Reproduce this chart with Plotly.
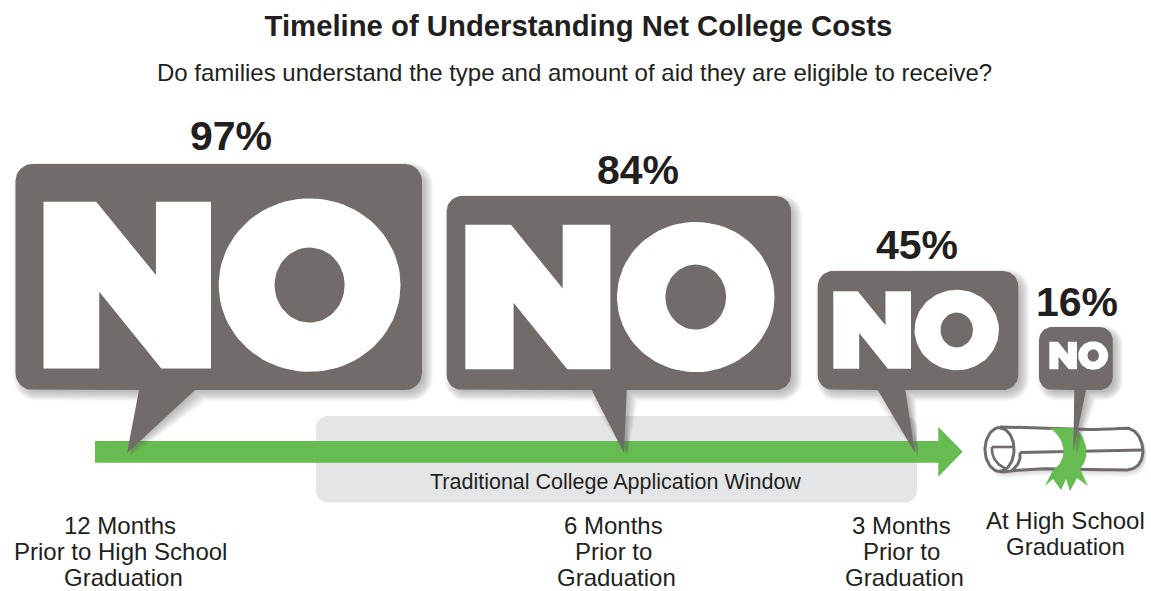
import numpy as np
import plotly.graph_objects as go

# Survey results: share of families answering "no" at each milestone
pct_no = [97, 84, 45, 16]
milestones = [
    ["12 Months", "Prior to High School", "Graduation"],
    ["6 Months", "Prior to", "Graduation"],
    ["3 Months", "Prior to", "Graduation"],
    ["At High School", "Graduation"],
]
TITLE = "Timeline of Understanding Net College Costs"
SUBTITLE = "Do families understand the type and amount of aid they are eligible to receive?"
WINDOW_LABEL = "Traditional College Application Window"

GREY = "#716b6a"
GREEN = "#66bc50"
PANEL = "#e4e5e7"
INK = "#231f20"
FONT = "Liberation Sans"

# Letter height of the "NO" grows with the percentage
GLYPH_SCALE = 1.72

# Frame of each speech bubble on the timeline
bubble_frames = [
    dict(left=15.5, right=422, top=164, bottom=390, r=17, base=(195, 139), tip=(127, 453),
         glyph_x=43.5, glyph_y=368.5, label_x=231, label_y=139.5),
    dict(left=446.7, right=791, top=196, bottom=390, r=15, base=(626.7, 591.7), tip=(624, 453),
         glyph_x=465.3, glyph_y=369.3, label_x=638, label_y=173.5),
    dict(left=817.7, right=1018.3, top=271, bottom=390, r=15, base=(905.3, 877.7), tip=(915, 452.7),
         glyph_x=833.3, glyph_y=368.7, label_x=917, label_y=249),
    dict(left=1039, right=1112.7, top=327, bottom=390, r=13, base=(1086, 1074.3), tip=(1073.3, 451.7),
         glyph_x=1049.3, glyph_y=369.3, label_x=1077, label_y=305.5),
]

# Unit-height outline of the heavy "NO" lettering
N_X = [0, 0.316, 0.674, 0.674, 1.004, 1.004, 0.706, 0.334, 0.334, 0, 0]
N_Y = [0, 0, 0.44, 0, 0, 1, 1, 0.54, 1, 1, 0]
O_CX, O_CY, O_RX, O_RY = 1.595, 0.5, 0.545, 0.52
HOLE_RX, HOLE_RY = 0.21, 0.225


def arc(cx, cy, rx, ry, start, stop, n=14):
    t = np.radians(np.linspace(start, stop, n))
    return cx + rx * np.cos(t), cy + ry * np.sin(t)


def bezier(p0, p1, p2, p3, n=24):
    t = np.linspace(0, 1, n)[:, None]
    pts = ((1 - t) ** 3 * np.array(p0) + 3 * (1 - t) ** 2 * t * np.array(p1)
           + 3 * (1 - t) * t ** 2 * np.array(p2) + t ** 3 * np.array(p3))
    return pts[:, 0], pts[:, 1]


def round_rect(left, right, top, bottom, r, pointer=None):
    parts = [
        arc(left + r, top + r, r, r, 180, 270),
        arc(right - r, top + r, r, r, 270, 360),
        arc(right - r, bottom - r, r, r, 0, 90),
    ]
    if pointer:
        (b1, b2), tip = pointer
        parts.append((np.array([b1, tip[0], b2]), np.array([bottom, tip[1], bottom])))
    parts.append(arc(left + r, bottom - r, r, r, 90, 180))
    xs = np.concatenate([p[0] for p in parts] + [[left + 0.0]])
    ys = np.concatenate([p[1] for p in parts] + [[top + r]])
    return xs, ys


def area(xs, ys, color):
    return go.Scatter(x=list(xs), y=list(ys), mode="lines", fill="toself", fillcolor=color,
                      line=dict(width=0), hoverinfo="skip", showlegend=False)


def stroke(xs, ys, width=3):
    return go.Scatter(x=list(xs), y=list(ys), mode="lines",
                      line=dict(color=GREY, width=width, shape="linear"),
                      hoverinfo="skip", showlegend=False)


def bubble_shadow(f, offset=4.5, steps=12, strength=0.05):
    # Soft shadow: stacked translucent balloons, growing from inset to outset
    layers = []
    spread = min(6.5, (f["bottom"] - f["top"]) * 0.09)
    for d in np.linspace(-spread * 0.8, spread, steps):
        b1, b2 = f["base"]
        bx, by = round_rect(f["left"] - d + offset, f["right"] + d + offset,
                            f["top"] - d + offset, f["bottom"] + d + offset,
                            f["r"] + max(d, 0),
                            pointer=((b1 + d + offset, b2 - d + offset),
                                     (f["tip"][0] + offset * 0.7, f["tip"][1] + d * 0.6)))
        layers.append(area(bx, by, f"rgba(90,92,102,{strength})"))
    return layers


fig = go.Figure()

# Application window panel
px, py = round_rect(316, 917, 416, 502.5, 12)
fig.add_trace(area(px, py, PANEL))

# Timeline arrow
fig.add_trace(area([95, 938.3, 938.3, 962.7, 938.3, 938.3, 95, 95],
                   [441, 441, 426.7, 451.7, 476.7, 462.7, 462.7, 441], GREEN))

# Rolled diploma at the end of the timeline
body = [bezier((1000, 427), (1040, 427), (1090, 432), (1125, 428)),
        bezier((1125, 428), (1137, 428), (1142, 440), (1143, 450)),
        bezier((1143, 450), (1143, 460), (1139, 470), (1125, 470)),
        bezier((1125, 470), (1090, 470), (1040, 466), (1003, 472)),
        arc(1000, 449.5, 15, 22, 90, 270, 30)]
body_x = np.concatenate([b[0] for b in body])
body_y = np.concatenate([b[1] for b in body])
for d in np.linspace(-2, 5, 8):
    fig.add_trace(area(body_x + 3, body_y + 3 + d * np.sign(body_y - 449) * 0.8,
                       "rgba(90,92,102,0.03)"))
fig.add_trace(area(body_x, body_y, "#ffffff"))
fig.add_trace(stroke(body_x, body_y))
fig.add_trace(stroke(*arc(1000, 449.5, 14, 21.5, -90, 90, 30)))
fig.add_trace(stroke([992, 1013], [447, 447], width=2.6))
fig.add_trace(stroke(*bezier((992, 447), (991, 458), (998, 466), (1007, 469)), width=2.6))
fig.add_trace(stroke([1020, 1143], [452.5, 450]))
fig.add_trace(stroke(*bezier((1020, 452.5), (1021, 460), (1018, 466), (1012, 470))))

# Green ribbon tied round the diploma
rib = [bezier((1050, 428), (1058, 428), (1068, 428), (1076, 428)),
       bezier((1076, 428), (1088, 440), (1090, 458), (1080, 469)),
       (np.array([1088, 1077, 1070, 1066, 1061, 1053, 1045, 1053]),
        np.array([486, 478, 491, 479, 490, 479, 486, 470])),
       bezier((1053, 470), (1066, 462), (1069, 442), (1050, 428))]
fig.add_trace(area(np.concatenate([r[0] for r in rib]),
                   np.concatenate([r[1] for r in rib]), GREEN))

# Speech bubbles: shadow, balloon, then the NO scaled from its percentage
for v, f in zip(pct_no, bubble_frames):
    for tr in bubble_shadow(f):
        fig.add_trace(tr)
    bx, by = round_rect(f["left"], f["right"], f["top"], f["bottom"], f["r"],
                        pointer=(f["base"], f["tip"]))
    fig.add_trace(area(bx, by, GREY))

    h = v * GLYPH_SCALE
    x0, y0 = f["glyph_x"], f["glyph_y"] - h
    fig.add_trace(area(x0 + np.array(N_X) * h, y0 + np.array(N_Y) * h, "#ffffff"))
    ox, oy = arc(x0 + O_CX * h, y0 + O_CY * h, O_RX * h, O_RY * h, 0, 360, 90)
    fig.add_trace(area(ox, oy, "#ffffff"))
    hx, hy = arc(x0 + O_CX * h, y0 + O_CY * h, HOLE_RX * h, HOLE_RY * h, 0, 360, 60)
    fig.add_trace(area(hx, hy, GREY))

# Percentage labels
fig.add_trace(go.Scatter(
    x=[f["label_x"] for f in bubble_frames], y=[f["label_y"] for f in bubble_frames],
    text=[f"{v}%" for v in pct_no], mode="text", textposition="middle center",
    textfont=dict(family=FONT, size=41, color=INK, weight="bold"),
    hoverinfo="skip", showlegend=False))

annotations = []


def note(text, x, y, size, color=INK):
    annotations.append(dict(text=text, x=x, y=y, xref="x", yref="y", showarrow=False,
                            xanchor="center", yanchor="middle",
                            font=dict(family=FONT, size=size, color=color)))


# Milestone captions, one line at a time
caption_x = [[120, 120.5, 123.5], [613.5, 613.5, 616.5], [901.5, 901.5, 904.5], [1065.5, 1065.5]]
caption_y = [[525, 551, 577], [525, 551, 577], [525, 551, 577], [520, 546]]
for lines, xs, ys in zip(milestones, caption_x, caption_y):
    for line, x, y in zip(lines, xs, ys):
        note(line, x, y, 24)

note(WINDOW_LABEL, 615, 482, 21.5)
note(SUBTITLE, 574, 72, 24)

fig.update_layout(
    width=1151, height=591, margin=dict(l=0, r=0, t=0, b=0),
    paper_bgcolor="#ffffff", plot_bgcolor="#ffffff", showlegend=False,
    title=dict(text=TITLE, x=578.5 / 1151, y=1 - 26 / 591, xanchor="center", yanchor="middle",
               xref="paper", yref="paper",
               font=dict(family=FONT, size=29.3, color=INK, weight="bold")),
    xaxis=dict(range=[0, 1151], visible=False, fixedrange=True),
    yaxis=dict(range=[591, 0], visible=False, fixedrange=True),
    annotations=annotations,
)

fig.write_html("out.html", config=dict(displayModeBar=False))
